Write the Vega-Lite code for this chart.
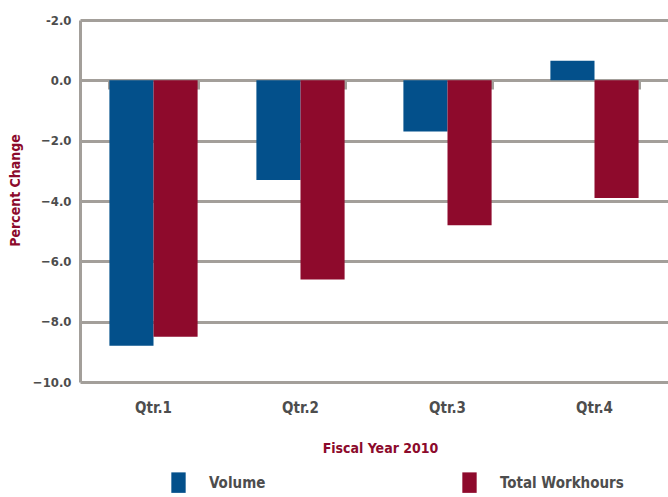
{
  "$schema": "https://vega.github.io/schema/vega-lite/v6.json",
  "width": 588,
  "height": 362,
  "autosize": "none",
  "padding": {"left": 80, "top": 20, "right": 0, "bottom": 115},
  "background": "white",
  "config": {
    "view": {"stroke": null},
    "font": "DejaVu Sans Condensed, Roboto Condensed, Roboto, sans-serif"
  },
  "data": {
    "values": [
      {"quarter": "Qtr.1", "series": "Volume", "value": -8.8},
      {"quarter": "Qtr.1", "series": "Total Workhours", "value": -8.5},
      {"quarter": "Qtr.2", "series": "Volume", "value": -3.3},
      {"quarter": "Qtr.2", "series": "Total Workhours", "value": -6.6},
      {"quarter": "Qtr.3", "series": "Volume", "value": -1.7},
      {"quarter": "Qtr.3", "series": "Total Workhours", "value": -4.8},
      {"quarter": "Qtr.4", "series": "Volume", "value": 0.65},
      {"quarter": "Qtr.4", "series": "Total Workhours", "value": -3.9}
    ]
  },
  "encoding": {
    "y": {
      "field": "value", "type": "quantitative",
      "scale": {"domain": [-10, 2], "nice": false, "zero": false},
      "axis": {
        "values": [-10, -8, -6, -4, -2, 0, 2],
        "labelExpr": "datum.value == 2 ? '-2.0' : format(datum.value, '.1f')",
        "grid": true, "gridColor": "#a39f9a", "gridWidth": 3,
        "domain": true, "domainColor": "#a39f9a", "domainWidth": 3,
        "ticks": false, "labelPadding": 9, "labelFontSize": 13,
        "labelFontWeight": "bold", "labelColor": "#4d4d4d",
        "title": "Percent Change", "titleFontSize": 14, "titleFontWeight": "bold",
        "titleColor": "#8c0a2c", "titleX": -65, "titleY": 170,
        "titleAngle": -90, "titleAlign": "center", "titleBaseline": "middle"
      }
    }
  },
  "layer": [
    {
      "mark": {"type": "bar", "opacity": 0},
      "encoding": {
        "x": {
          "field": "quarter", "type": "nominal", "sort": null,
          "scale": {"paddingInner": 0.4, "paddingOuter": 0.2},
          "axis": {
            "orient": "top", "offset": -60, "labels": false, "title": null,
            "domain": false, "ticks": true, "tickBand": "extent", "tickSize": -9,
            "tickWidth": 3, "tickColor": "#a39f9a", "grid": false
          }
        }
      }
    },
    {
      "mark": {"type": "bar"},
      "encoding": {
        "x": {
          "field": "quarter", "type": "nominal", "sort": null,
          "scale": {"paddingInner": 0.4, "paddingOuter": 0.2},
          "axis": {
            "orient": "bottom", "labelAngle": 0, "domain": false, "ticks": false,
            "labelPadding": 18, "labelFontSize": 15, "labelFontWeight": "bold",
            "labelColor": "#4d4d4d", "title": "Fiscal Year 2010", "titleFontSize": 14,
            "titleFontWeight": "bold", "titleColor": "#8c0a2c", "titlePadding": 26,
            "titleX": 300
          }
        },
        "xOffset": {"field": "series", "type": "nominal", "sort": ["Volume", "Total Workhours"], "scale": {"paddingInner": 0, "paddingOuter": 0}},
        "color": {
          "field": "series", "type": "nominal",
          "scale": {"domain": ["Volume", "Total Workhours"], "range": ["#03508b", "#8e0a2c"]},
          "legend": {
            "title": null, "orient": "none", "direction": "horizontal",
            "legendX": 88, "legendY": 452, "symbolType": "M-0.7,-1H0.7V1H-0.7Z",
            "symbolSize": 420, "symbolStrokeWidth": 0, "labelOffset": 20,
            "labelFontSize": 15, "labelFontWeight": "bold", "labelColor": "#4d4d4d",
            "columnPadding": 193
          }
        }
      }
    }
  ]
}
